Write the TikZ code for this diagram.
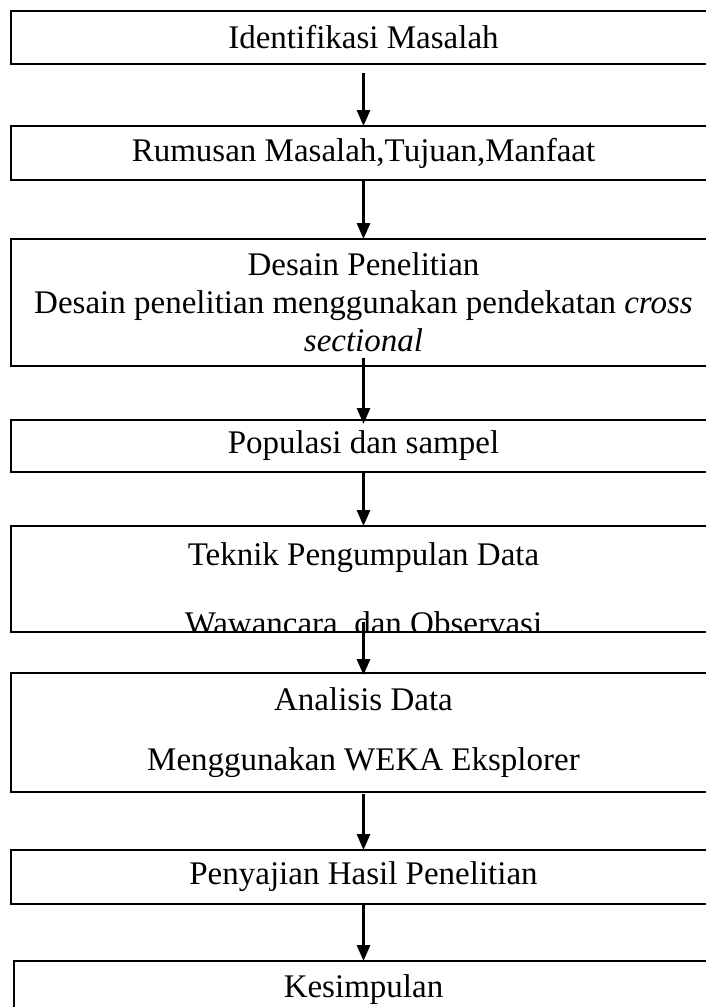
\documentclass[tikz,border=0pt]{standalone}
\usepackage{fontspec}
\setmainfont{Liberation Serif}
\usetikzlibrary{arrows.meta,positioning}

\begin{document}
\begin{tikzpicture}[x=1pt,y=-1pt,>={Triangle[width=13pt,length=16pt]},
                    stepbox/.style={rectangle,draw,line width=1.4pt,minimum width=705pt,
                    inner sep=0pt,outer sep=0pt,align=center,font=\fontsize{33}{38}\selectfont}]
  \useasboundingbox (0,0) rectangle (705,1007);

  \node[stepbox,minimum height=53pt] (1) at (363.5,37.5) {Identifikasi Masalah};
  \node[stepbox,minimum height=54pt] (2) [below=62pt of 1] {Rumusan Masalah,Tujuan,Manfaat};
  \node[stepbox,minimum height=127pt] (3) [below=59pt of 2]
    {Desain Penelitian\\Desain penelitian menggunakan pendekatan \textit{cross}\\\textit{sectional}};
  \node[stepbox,minimum height=52pt] (4) [below=54pt of 3] {Populasi dan sampel};
  \node[stepbox,minimum height=106pt] (5) [below=54pt of 4] {};
  \begin{scope}
    \clip (5.north west) rectangle (5.south east);
    \node[stepbox,draw=none] (5t) at ([yshift=-10pt]5.center)
      {Teknik Pengumpulan Data\\[31pt]Wawancara\ \ dan Observasi};
  \end{scope}
  \node[stepbox,minimum height=119pt] (6) [below=41pt of 5]
    {Analisis Data\\[22pt]Menggunakan WEKA Eksplorer};
  \node[stepbox,minimum height=54pt] (7) [below=58pt of 6] {Penyajian Hasil Penelitian};
  \node[stepbox,minimum height=70pt,minimum width=699pt] (8) [below=57pt of 7] {};
  \node[font=\fontsize{33}{38}\selectfont,inner sep=0pt,anchor=base] (8t)
    at ([yshift=-36pt]8.north) {Kesimpulan};

  \path[->,line width=3pt]
    (1) edge[shorten <=9pt] (2)
    (2) edge (3)
    (3) edge[shorten <=-8pt,shorten >=-4pt] (4)
    (4) edge (5)
    (5) edge[shorten <=-10pt,shorten >=-2pt] (6)
    (6) edge[shorten <=2pt] (7)
    (7) edge (8);
\end{tikzpicture}
\end{document}
